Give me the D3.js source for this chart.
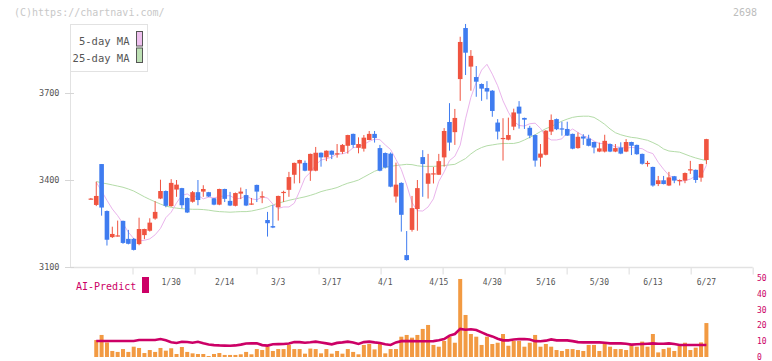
<!DOCTYPE html>
<html><head><meta charset="utf-8">
<script src="https://cdn.jsdelivr.net/npm/d3@7"></script>
<style>html,body{margin:0;padding:0;background:#fff;}svg{display:block;}</style>
</head><body>
<script>
const dates = ["1/8","1/9","1/10","1/14","1/15","1/16","1/17","1/20","1/21","1/22","1/23","1/24","1/27","1/28","1/29","1/30",
"1/31","2/3","2/4","2/5","2/6","2/7","2/10","2/12","2/13","2/14",
"2/17","2/18","2/19","2/20","2/21","2/25","2/26","2/27","2/28","3/3",
"3/4","3/5","3/6","3/7","3/10","3/11","3/12","3/13","3/14","3/17",
"3/18","3/19","3/21","3/24","3/25","3/26","3/27","3/28","3/31","4/1",
"4/2","4/3","4/4","4/7","4/8","4/9","4/10","4/11","4/14","4/15",
"4/16","4/17","4/18","4/21","4/22","4/23","4/24","4/25","4/28","4/30",
"5/1","5/2","5/7","5/8","5/9","5/12","5/13","5/14","5/15","5/16",
"5/19","5/20","5/21","5/22","5/23","5/26","5/27","5/28","5/29","5/30",
"6/2","6/3","6/4","6/5","6/6","6/9","6/10","6/11","6/12","6/13",
"6/16","6/17","6/18","6/19","6/20","6/23","6/24","6/25","6/26","6/27"];

const open = [3335,3314,3455,3293,3203,3206,3259,3197,3197,3179,3210,3225,3267,3336,3362,3310,3367,3372,3338,3325,
3358,3360,3358,3337,3315,3369,3328,3311,3353,3348,3316,3383,3342,3262,3241,3306,3357,3366,3418,3457,
3459,3432,3432,3494,3478,3501,3488,3497,3518,3559,3511,3508,3538,3559,3510,3493,3491,3343,3390,3141,
3228,3300,3479,3387,3422,3418,3478,3600,3565,3748,3924,3791,3755,3731,3717,3708,3598,3544,3539,3584,
3653,3614,3580,3555,3477,3487,3567,3610,3578,3576,3559,3510,3550,3543,3531,3498,3498,3524,3498,3512,
3498,3531,3521,3490,3458,3445,3386,3399,3381,3413,3399,3398,3436,3435,3408,3469];
const high = [3338,3394,3455,3295,3239,3260,3260,3228,3200,3270,3232,3268,3327,3401,3364,3403,3400,3373,3340,3362,
3400,3382,3359,3338,3370,3370,3359,3357,3374,3369,3338,3384,3361,3290,3314,3346,3363,3428,3460,3470,
3467,3491,3514,3495,3502,3502,3524,3524,3556,3560,3547,3555,3569,3569,3521,3495,3495,3460,3392,3224,
3345,3400,3503,3490,3445,3490,3579,3665,3645,3894,3938,3848,3793,3733,3741,3710,3610,3613,3615,3646,
3672,3615,3587,3557,3524,3572,3626,3612,3601,3601,3560,3564,3558,3556,3532,3529,3556,3526,3524,3530,
3541,3532,3522,3491,3466,3446,3414,3414,3428,3414,3402,3426,3466,3436,3456,3542];
const low = [3333,3310,3277,3174,3200,3205,3180,3178,3157,3175,3196,3222,3263,3334,3306,3308,3342,3302,3286,3322,
3313,3342,3341,3313,3313,3324,3310,3309,3334,3310,3314,3324,3320,3205,3234,3260,3324,3342,3388,3389,
3430,3397,3430,3446,3465,3472,3477,3490,3491,3511,3492,3498,3537,3529,3430,3440,3375,3322,3222,3122,
3222,3225,3342,3336,3388,3418,3446,3501,3521,3673,3762,3708,3687,3673,3678,3618,3540,3467,3537,3572,
3577,3576,3544,3446,3446,3485,3555,3572,3553,3552,3506,3508,3521,3516,3492,3496,3495,3496,3496,3489,
3496,3486,3487,3453,3446,3377,3379,3385,3379,3389,3381,3389,3421,3390,3394,3454];
const close = [3336,3345,3305,3194,3214,3209,3183,3180,3159,3231,3231,3253,3290,3362,3311,3390,3384,3313,3288,3358,
3331,3369,3343,3315,3369,3335,3312,3355,3360,3312,3319,3360,3344,3251,3236,3345,3359,3410,3459,3469,
3432,3490,3494,3478,3501,3487,3492,3521,3555,3521,3524,3546,3559,3545,3432,3443,3377,3384,3280,3124,
3303,3372,3455,3423,3423,3465,3569,3529,3614,3876,3839,3828,3739,3715,3705,3638,3567,3545,3555,3633,
3629,3608,3553,3467,3491,3570,3607,3575,3576,3553,3508,3549,3543,3518,3512,3509,3535,3498,3510,3491,
3531,3518,3489,3456,3459,3381,3399,3386,3409,3398,3400,3424,3437,3400,3455,3541];

const ma5 = [null,3392,3362,3330,3300,3277,3250,3220,3198,3190,3192,3197,3211,3233,3270,3289,3321,3347,3352,3340,
3347,3335,3341,3338,3343,3345,3346,3335,3337,3346,3335,3332,3341,3338,3317,3302,3307,3307,3320,3362,
3408,3426,3452,3469,3473,3479,3490,3490,3496,3511,3515,3523,3533,3541,3539,3521,3505,3471,3436,3383,
3322,3294,3293,3307,3335,3395,3428,3467,3482,3520,3611,3685,3737,3779,3799,3765,3725,3673,3634,3602,
3588,3586,3594,3596,3578,3550,3538,3538,3542,3564,3576,3564,3552,3546,3534,3526,3526,3523,3514,3513,
3509,3513,3510,3508,3497,3491,3461,3437,3416,3407,3395,3398,3403,3414,3412,3451];
const ma25 = [null,3395,3390,3387,3383,3379,3375,3369,3362,3352,3342,3333,3325,3317,3310,3306,3303,3301,3300,3299,
3299,3298,3296,3293,3291,3290,3289,3290,3291,3291,3293,3297,3301,3307,3314,3320,3325,3330,3334,3338,
3342,3347,3353,3360,3365,3369,3374,3382,3389,3394,3400,3410,3420,3430,3437,3444,3447,3450,3452,3454,
3453,3449,3447,3447,3447,3448,3450,3452,3454,3464,3474,3490,3503,3512,3518,3521,3524,3526,3526,3526,
3530,3538,3547,3556,3567,3577,3584,3594,3603,3610,3616,3619,3620,3620,3616,3605,3592,3576,3563,3556,
3551,3547,3545,3541,3537,3529,3520,3507,3500,3498,3496,3489,3482,3476,3471,3467];

const volume = [null,10.7,13.9,9.2,3.8,3.2,5.0,3.2,6.5,5.7,2.5,4.4,3.2,5.7,4.0,5.5,1.9,6.3,3.2,2.3,
1.9,1.9,0.6,1.9,2.5,1.3,1.3,1.3,1.7,3.2,1.7,5.0,4.4,6.7,3.8,5.0,5.0,7.6,5.0,5.0,
2.1,5.3,5.0,2.3,5.0,2.1,3.8,2.1,5.0,3.2,1.7,7.6,8.2,4.8,8.6,2.3,5.0,5.0,12.8,13.9,
12.2,13.9,17.7,20.2,7.6,6.5,10.1,12.8,9.0,49.2,26.5,14.5,12.8,7.6,12.8,8.2,9.0,14.5,7.1,10.1,
10.1,6.5,9.0,13.9,6.5,8.2,6.5,4.4,3.8,5.0,5.0,4.4,3.8,7.6,7.6,3.8,8.6,6.5,5.0,5.0,
4.4,7.6,6.5,9.7,6.5,14.5,2.9,5.0,5.9,3.8,7.6,9.0,4.4,5.9,9.2,21.4];
const volumeMA = [null,10.1,10.1,10.1,10.1,10.1,10.1,10.1,10.1,10.7,10.7,10.7,10.7,11.3,10.5,9.3,8.8,9.6,9.5,9.0,
9.6,8.6,7.9,7.5,7.3,7.2,7.1,7.3,7.8,8.5,8.6,8.6,7.5,7.2,8.0,8.1,8.2,8.5,9.5,9.4,
9.0,9.3,9.7,9.2,8.6,8.0,8.9,9.2,9.7,9.2,8.2,9.4,9.7,9.2,8.8,8.0,7.6,9.2,10.0,10.1,
10.0,9.9,9.9,9.9,10.0,10.5,11.3,13.5,14.5,17.7,17.2,17.5,17.0,15.5,14.0,13.0,11.5,10.5,10.5,11.0,
11.3,11.3,11.0,10.0,9.9,10.3,11.1,10.5,10.5,10.5,10.0,9.4,9.2,9.2,9.2,9.2,9.0,8.6,8.6,8.6,
8.4,7.8,8.0,8.2,8.4,8.6,8.4,8.4,8.6,8.2,7.6,7.6,7.6,7.6,7.6,7.6];

const priceTicks = [3100, 3400, 3700];
const volumeTicks = [0, 10, 20, 30, 40, 50];
const dateLabels = ["1/30","2/14","3/3","3/17","4/1","4/15","4/30","5/16","5/30","6/13","6/27"];
const legendLabels = ["5-day MA", "25-day MA"];

const W = 772, H = 361;
const UP = "#f05440", DOWN = "#3f7cf0";
const MONO = "'DejaVu Sans Mono', 'Liberation Mono', monospace";

const svg = d3.select("body").append("svg").attr("width", W).attr("height", H);

const x = d3.scalePoint().domain(dates).range([90.9, 706.4]);
const y = d3.scaleLinear().domain([3100, 3700]).range([267, 93]);
const yv = d3.scaleLinear().domain([0, 50]).range([357, 277.7]);
const frame = d3.scaleLinear().domain([0, 11]).range([70.5, 752.7]);

// watermark + code
svg.append("text").attr("x", 14).attr("y", 16).text("(C)https://chartnavi.com/")
  .attr("font-family", MONO).attr("font-size", 10).attr("fill", "#c8c8c8");
svg.append("text").attr("x", 757).attr("y", 16).attr("text-anchor", "end").text("2698")
  .attr("font-family", MONO).attr("font-size", 10).attr("fill", "#bdbdbd");

// left axis line and bottom axis with frame ticks
svg.append("line").attr("x1", 70.5).attr("x2", 70.5).attr("y1", y(3900)).attr("y2", 267.5)
  .attr("stroke", "#e2e2e2").attr("stroke-width", 1);
const bottomAxis = d3.axisBottom(frame).tickValues(d3.range(1, 12)).tickSize(7).tickFormat("");
const bg = svg.append("g").attr("transform", "translate(0,267.5)").call(bottomAxis);
bg.select(".domain").attr("stroke", "#e2e2e2").attr("stroke-width", 1.5).attr("d", `M70.5,0H${frame(11)}`);
bg.selectAll(".tick line").attr("stroke", "#e2e2e2").attr("stroke-width", 1.2);

// price axis ticks + labels
const leftAxis = d3.axisLeft(y).tickValues(priceTicks).tickSize(0).tickPadding(0).tickFormat(d3.format("d"));
const lg = svg.append("g").attr("transform", "translate(59.5,0)").call(leftAxis);
lg.select(".domain").remove();
lg.selectAll(".tick text").attr("font-family", MONO).attr("font-size", 8.5).attr("fill", "#555").attr("dy", "0.33em");
svg.selectAll(".ytick").data(priceTicks).join("line").attr("class", "ytick")
  .attr("x1", 65).attr("x2", 74).attr("y1", d => Math.round(y(d)) + 0.5).attr("y2", d => Math.round(y(d)) + 0.5)
  .attr("stroke", "#d6d6d6");

// date labels
svg.selectAll(".dlab").data(dateLabels).join("text").attr("class", "dlab")
  .attr("x", d => x(d)).attr("y", 285).attr("text-anchor", "middle")
  .attr("font-family", MONO).attr("font-size", 8).attr("fill", "#555").text(d => d);

// moving averages
const idx = d3.range(dates.length);
const maLine = arr => d3.line().defined(i => arr[i] != null).x(i => x(dates[i])).y(i => y(arr[i]))(idx);
svg.append("path").attr("d", maLine(ma25)).attr("fill", "none").attr("stroke", "#b4dca8").attr("stroke-width", 1);
svg.append("path").attr("d", maLine(ma5)).attr("fill", "none").attr("stroke", "#eab4ec").attr("stroke-width", 1);

// candles
const bw = 4.6;
const cg = svg.append("g");
cg.selectAll(".wick").data(idx).join("line").attr("class", "wick")
  .attr("x1", i => x(dates[i])).attr("x2", i => x(dates[i]))
  .attr("y1", i => y(high[i])).attr("y2", i => y(low[i]))
  .attr("stroke", i => close[i] >= open[i] ? UP : DOWN).attr("stroke-width", 1);
cg.selectAll(".body").data(idx).join("rect").attr("class", "body")
  .attr("x", i => x(dates[i]) - bw / 2).attr("width", bw)
  .attr("y", i => y(Math.max(open[i], close[i])))
  .attr("height", i => Math.max(1.2, Math.abs(y(open[i]) - y(close[i]))))
  .attr("fill", i => close[i] >= open[i] ? UP : DOWN);

// legend
const leg = svg.append("g");
leg.append("rect").attr("x", 70.5).attr("y", 24.5).attr("width", 77).attr("height", 47)
  .attr("fill", "#fff").attr("stroke", "#e2e2e2");
const swatch = ["#eec0ee", "#bde0b4"];
leg.selectAll(".lt").data(legendLabels).join("text").attr("class", "lt")
  .attr("x", 129.5).attr("y", (d, k) => 45 + k * 16.5).attr("text-anchor", "end")
  .attr("font-family", MONO).attr("font-size", 10.5).attr("fill", "#555").text(d => d);
leg.selectAll(".ls").data(legendLabels).join("rect").attr("class", "ls")
  .attr("x", 136.5).attr("y", (d, k) => 31.5 + k * 16.5).attr("width", 6).attr("height", 14.5)
  .attr("fill", (d, k) => swatch[k]).attr("stroke", "#555");

// volume panel
const vg = svg.append("g");
vg.selectAll(".vbar").data(idx.filter(i => volume[i] != null)).join("rect").attr("class", "vbar")
  .attr("x", i => x(dates[i]) - 2).attr("width", 4)
  .attr("y", i => yv(volume[i])).attr("height", i => yv(0) - yv(volume[i]))
  .attr("fill", "#f29a42");
vg.append("path").attr("d", d3.line().defined(i => volumeMA[i] != null)
    .x(i => x(dates[i])).y(i => yv(volumeMA[i]))(idx))
  .attr("fill", "none").attr("stroke", "#cc0066").attr("stroke-width", 2.6);

const rightAxis = d3.axisRight(yv).tickValues(volumeTicks).tickSize(0).tickPadding(0);
const rg = svg.append("g").attr("transform", "translate(757,0)").call(rightAxis);
rg.select(".domain").remove();
rg.selectAll(".tick text").attr("font-family", MONO).attr("font-size", 8).attr("fill", "#cc0066").attr("dy", "0.33em");

svg.append("text").attr("x", 76).attr("y", 290).text("AI-Predict")
  .attr("font-family", MONO).attr("font-size", 10).attr("fill", "#cc0066");
svg.append("rect").attr("x", 142).attr("y", 277).attr("width", 7).attr("height", 16).attr("fill", "#cc0066");
</script>
</body></html>
